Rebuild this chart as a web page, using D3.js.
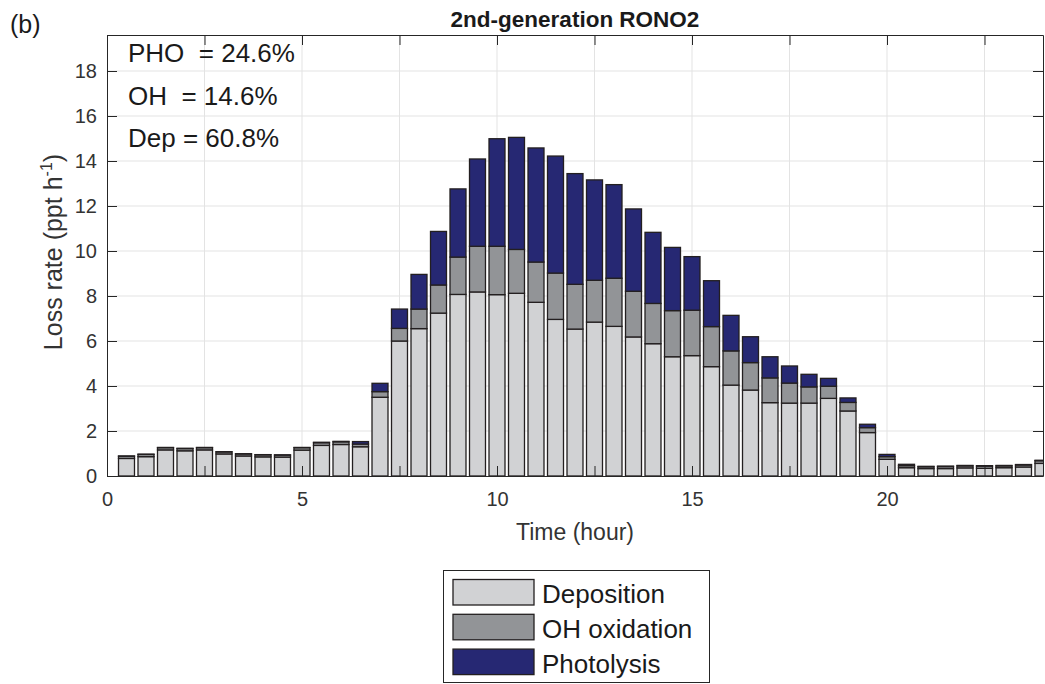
<!DOCTYPE html>
<html>
<head>
<meta charset="utf-8">
<script src="https://cdn.jsdelivr.net/npm/d3@7"></script>
<style>
  body { margin: 0; background: #fff; }
  svg { display: block; font-family: "Liberation Sans", Arial, sans-serif; }
</style>
</head>
<body>
<div id="chart"></div>
<script>
// half-hourly bins, 0.5 .. 24 h
var hours = [0.5,1,1.5,2,2.5,3,3.5,4,4.5,5,5.5,6,6.5,7,7.5,8,8.5,9,9.5,10,10.5,11,11.5,12,
             12.5,13,13.5,14,14.5,15,15.5,16,16.5,17,17.5,18,18.5,19,19.5,20,20.5,21,21.5,22,22.5,23,23.5,24];

var deposition = [0.78,0.86,1.16,1.12,1.16,0.98,0.89,0.85,0.84,1.15,1.36,1.40,1.30,3.50,6.00,6.55,7.24,8.07,8.18,8.06,
                  8.12,7.72,6.96,6.53,6.84,6.65,6.18,5.88,5.30,5.35,4.86,4.04,3.82,3.26,3.24,3.24,3.45,2.89,1.93,0.74,
                  0.37,0.33,0.33,0.36,0.34,0.37,0.40,0.56];
var ohOxidation = [0.10,0.10,0.10,0.10,0.10,0.09,0.09,0.09,0.09,0.11,0.12,0.12,0.12,0.25,0.56,0.87,1.25,1.66,2.03,2.15,
                   1.95,1.79,2.06,1.99,1.86,2.14,2.03,1.79,2.05,2.02,1.78,1.52,1.22,1.10,0.89,0.72,0.54,0.38,0.22,0.12,
                   0.09,0.08,0.09,0.09,0.10,0.08,0.09,0.12];
var photolysis = [0.01,0.01,0.01,0.01,0.01,0.01,0.01,0.01,0.01,0.01,0.02,0.02,0.11,0.37,0.86,1.54,2.38,3.03,3.88,4.78,
                  4.98,5.07,5.20,4.92,4.46,4.16,3.66,3.16,2.81,2.38,2.04,1.58,1.15,0.94,0.76,0.56,0.35,0.20,0.15,0.10,
                  0.06,0.02,0.02,0.02,0.02,0.02,0.02,0.02];

var seriesNames = ['Deposition', 'OH oxidation', 'Photolysis'];
var seriesColors = ['#d1d2d4', '#929497', '#262873'];

var xTickValues = [0,2.5,5,7.5,10,12.5,15,17.5,20,22.5];
var xTickLabels = ['0','','5','','10','','15','','20',''];
var yTickValues = [0,2,4,6,8,10,12,14,16,18];

var shares = ['PHO  = 24.6%', 'OH  = 14.6%', 'Dep = 60.8%'];

var W = 1045, H = 684;
// plot box (window.top is read-only, so no bare "top")
var pLeft = 107, pRight = 1043, pTop = 35, pBottom = 476;
var axisColor = '#262626';

var svg = d3.select('#chart').append('svg')
    .attr('width', W)
    .attr('height', H);

var x = d3.scaleLinear().domain([0, 24]).range([pLeft, pRight]);
var y = d3.scaleLinear().domain([0, 19.6]).range([pBottom, pTop]);

svg.append('defs').append('clipPath').attr('id', 'plotclip')
    .append('rect')
    .attr('x', pLeft).attr('y', pTop)
    .attr('width', pRight - pLeft).attr('height', pBottom - pTop);

// grid first, bars cover it
var grid = svg.append('g');
grid.selectAll('.vg').data(xTickValues.slice(1)).enter().append('line')
    .attr('x1', function(d){ return x(d); }).attr('x2', function(d){ return x(d); })
    .attr('y1', pTop).attr('y2', pBottom)
    .attr('stroke', '#e3e3e3').attr('stroke-width', 1);
grid.selectAll('.hg').data(yTickValues.slice(1)).enter().append('line')
    .attr('x1', pLeft).attr('x2', pRight)
    .attr('y1', function(d){ return y(d); }).attr('y2', function(d){ return y(d); })
    .attr('stroke', '#e3e3e3').attr('stroke-width', 1);

// stacked bars
var rows = hours.map(function(h, i){
    return { hour: h, dep: deposition[i], oh: ohOxidation[i], pho: photolysis[i] };
});
var stack = d3.stack().keys(['dep', 'oh', 'pho']);
var layers = stack(rows);
var halfW = 0.205;

var bars = svg.append('g').attr('clip-path', 'url(#plotclip)');
bars.selectAll('g.layer')
    .data(layers).enter().append('g')
    .attr('class', 'layer')
    .attr('fill', function(d, i){ return seriesColors[i]; })
  .selectAll('rect')
    .data(function(d){ return d; }).enter().append('rect')
    .attr('x', function(d){ return x(d.data.hour - halfW); })
    .attr('width', function(d){ return x(d.data.hour + halfW) - x(d.data.hour - halfW); })
    .attr('y', function(d){ return y(d[1]); })
    .attr('height', function(d){ return y(d[0]) - y(d[1]); })
    .attr('stroke', '#231f20')
    .attr('stroke-width', 1.3);

// axes box with inward ticks on all sides
var tickLen = 10;
var xAxis = d3.axisBottom(x).tickValues(xTickValues).tickSizeInner(-tickLen).tickSizeOuter(0).tickPadding(16)
    .tickFormat(function(d, i){ return xTickLabels[i]; });
var yAxis = d3.axisLeft(y).tickValues(yTickValues).tickSizeInner(-tickLen).tickSizeOuter(0).tickPadding(10)
    .tickFormat(d3.format('d'));

var gx = svg.append('g').attr('transform', 'translate(0,' + pBottom + ')').call(xAxis);
var gy = svg.append('g').attr('transform', 'translate(' + pLeft + ',0)').call(yAxis);
var gxTop = svg.append('g').attr('transform', 'translate(0,' + pTop + ')')
    .call(d3.axisTop(x).tickValues(xTickValues).tickSizeInner(-tickLen).tickSizeOuter(0).tickFormat(''));
var gyRight = svg.append('g').attr('transform', 'translate(' + pRight + ',0)')
    .call(d3.axisRight(y).tickValues(yTickValues).tickSizeInner(-tickLen).tickSizeOuter(0).tickFormat(''));

[gx, gy, gxTop, gyRight].forEach(function(g){
    g.attr('font-size', null).attr('font-family', null);
    g.select('.domain').attr('stroke', axisColor).attr('stroke-width', 1);
    g.selectAll('.tick line').attr('stroke', axisColor).attr('stroke-width', 1);
    g.selectAll('.tick text')
        .attr('fill', '#333')
        .style('font-size', '20px');
});

// title and axis labels
svg.append('text')
    .attr('x', (pLeft + pRight) / 2).attr('y', 27)
    .attr('text-anchor', 'middle')
    .style('font-size', '22.5px').style('font-weight', 'bold')
    .attr('fill', '#1a1a1a')
    .text('2nd-generation RONO2');

svg.append('text')
    .attr('x', 10).attr('y', 33)
    .style('font-size', '25px')
    .attr('fill', '#1a1a1a')
    .text('(b)');

svg.append('text')
    .attr('x', (pLeft + pRight) / 2).attr('y', 540)
    .attr('text-anchor', 'middle')
    .style('font-size', '23px')
    .attr('fill', '#333')
    .text('Time (hour)');

var ylab = svg.append('text')
    .attr('transform', 'translate(62,252) rotate(-90)')
    .attr('text-anchor', 'middle')
    .style('font-size', '25px')
    .attr('fill', '#333');
ylab.append('tspan').text('Loss rate (ppt h');
ylab.append('tspan').attr('dy', -10).style('font-size', '16px').text('-1');
ylab.append('tspan').attr('dy', 10).text(')');

// percentage annotations, top-left
svg.append('g').selectAll('text')
    .data(shares).enter().append('text')
    .attr('x', 128)
    .attr('y', function(d, i){ return 62 + i * 42.5; })
    .style('font-size', '26px')
    .style('white-space', 'pre')
    .attr('xml:space', 'preserve')
    .attr('fill', '#1a1a1a')
    .text(function(d){ return d; });

// legend
var lg = svg.append('g');
lg.append('rect')
    .attr('x', 443.5).attr('y', 570.5)
    .attr('width', 266).attr('height', 112)
    .attr('fill', '#fff').attr('stroke', axisColor).attr('stroke-width', 1);

var item = lg.selectAll('.item').data(seriesNames).enter().append('g')
    .attr('transform', function(d, i){ return 'translate(453,' + (579.5 + i * 34.8) + ')'; });
item.append('rect')
    .attr('width', 81).attr('height', 25.5)
    .attr('fill', function(d, i){ return seriesColors[i]; })
    .attr('stroke', '#231f20').attr('stroke-width', 1.3);
item.append('text')
    .attr('x', 89).attr('y', 23.5)
    .style('font-size', '26px')
    .attr('fill', '#1a1a1a')
    .text(function(d){ return d; });
</script>
</body>
</html>
